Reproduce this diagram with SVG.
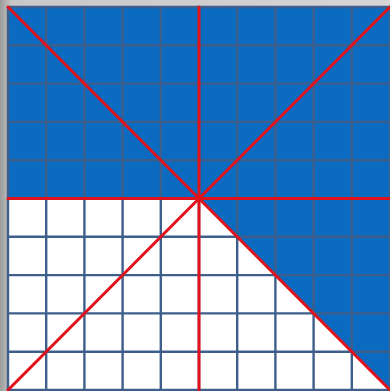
<svg xmlns="http://www.w3.org/2000/svg" width="390" height="391" viewBox="0 0 390 391">
<defs>
<linearGradient id="bg" x1="0" y1="0" x2="1" y2="0">
<stop offset="0" stop-color="#9c9c9c"/>
<stop offset="0.03" stop-color="#c8c8c8"/>
<stop offset="1" stop-color="#d6d6d6"/>
</linearGradient>
<style>
.grid{stroke:#3e5f8c;stroke-width:2.4;fill:none}
.red{stroke:#e0121c;stroke-width:3;fill:none;stroke-linecap:round}
</style>
</defs>
<rect x="0" y="0" width="390" height="391" fill="url(#bg)"/>
<rect x="8" y="7" width="382" height="383" fill="#ffffff"/>
<polygon points="8,7 390,7 390,390 199,198.5 8,198.5" fill="#0b6bc0"/>
<g id="grid" class="grid">
<path d="M8,7V390M46.2,7V390M84.4,7V390M122.6,7V390M160.8,7V390M199,7V390M237.2,7V390M275.4,7V390M313.6,7V390M351.8,7V390M390,7V390"/>
<path d="M8,7H390M8,45.3H390M8,83.6H390M8,121.9H390M8,160.2H390M8,198.5H390M8,236.8H390M8,275.1H390M8,313.4H390M8,351.7H390M8,390H390"/>
</g>
<g id="connectors" class="red">
<line x1="8" y1="7" x2="390" y2="390"/>
<line x1="390" y1="7" x2="8" y2="390"/>
<line x1="199" y1="7" x2="199" y2="390"/>
<line x1="8" y1="198.5" x2="390" y2="198.5"/>
</g>
</svg>
